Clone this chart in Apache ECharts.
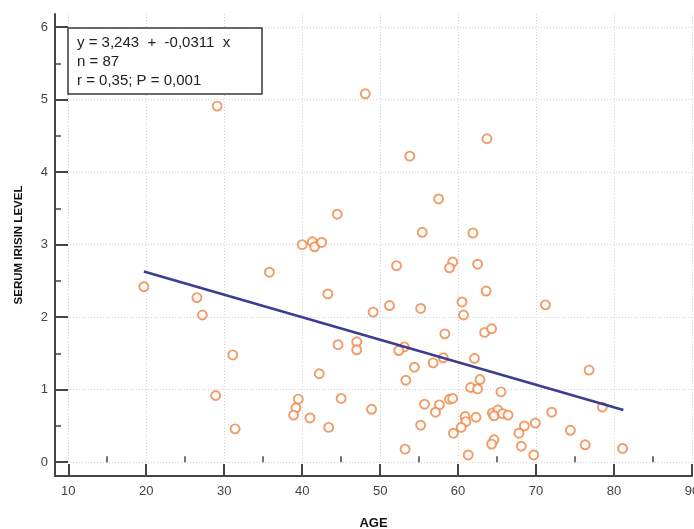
<!DOCTYPE html>
<html>
<head>
<meta charset="utf-8">
<script src="https://cdn.jsdelivr.net/npm/echarts@6/dist/echarts.min.js"></script>
<style>
  html, body { margin: 0; padding: 0; background: #fff; }
  #chart { width: 694px; height: 529px; }
</style>
</head>
<body>
<div id="chart"></div>
<script>
// age / serum irisin pairs
const ages = [
  44.5, 40.0, 41.3, 41.6, 42.5, 35.8, 19.7, 26.5, 43.3, 27.2,
  49.1, 31.1, 44.6, 47.0, 47.0, 42.2, 28.9, 39.5, 39.2, 38.9,
  45.0, 41.0, 48.9, 31.4, 43.4, 29.1, 48.1, 63.7, 53.8, 57.5,
  55.4, 61.9, 52.1, 59.3, 58.9, 62.5, 63.6, 51.2, 55.2, 60.5,
  60.7, 71.2, 58.3, 63.4, 64.3, 53.1, 52.4, 58.1, 56.8, 62.1,
  54.4, 53.3, 62.8, 61.6, 62.5, 76.8, 65.5, 78.5, 55.7, 57.6,
  58.9, 59.3, 57.1, 64.4, 65.1, 64.6, 65.7, 66.4, 60.9, 62.3,
  61.0, 60.4, 72.0, 55.2, 59.4, 68.5, 69.9, 67.8, 74.4, 64.6,
  64.3, 68.1, 76.3, 53.2, 61.3, 69.7, 81.1
];
const irisin = [
  3.42, 3.00, 3.04, 2.97, 3.03, 2.62, 2.42, 2.27, 2.32, 2.03,
  2.07, 1.48, 1.62, 1.66, 1.55, 1.22, 0.92, 0.87, 0.75, 0.65,
  0.88, 0.61, 0.73, 0.46, 0.48, 4.91, 5.08, 4.46, 4.22, 3.63,
  3.17, 3.16, 2.71, 2.76, 2.68, 2.73, 2.36, 2.16, 2.12, 2.21,
  2.03, 2.17, 1.77, 1.79, 1.84, 1.59, 1.54, 1.44, 1.37, 1.43,
  1.31, 1.13, 1.14, 1.03, 1.01, 1.27, 0.97, 0.76, 0.80, 0.79,
  0.87, 0.88, 0.69, 0.68, 0.72, 0.64, 0.67, 0.65, 0.63, 0.62,
  0.56, 0.48, 0.69, 0.51, 0.40, 0.50, 0.54, 0.40, 0.44, 0.31,
  0.25, 0.22, 0.24, 0.18, 0.10, 0.10, 0.19
];
// fitted line ends (y = 3,243 + -0,0311 x)
const fitLine = [[19.7, 2.63], [81.2, 0.72]];

const xTicks = [10, 20, 30, 40, 50, 60, 70, 80, 90];
const xMinorTicks = [15, 25, 35, 45, 55, 65, 75, 85];
const yTicks = [0, 1, 2, 3, 4, 5, 6];
const yMinorTicks = [0.5, 1.5, 2.5, 3.5, 4.5, 5.5];

const statsText = ['y = 3,243  +  -0,0311  x', 'n = 87', 'r = 0,35; P = 0,001'];

const chart = echarts.init(document.getElementById('chart'), null, { renderer: 'canvas' });

const axisColor = '#454545';
const gridLine = { show: true, lineStyle: { color: '#cfcfcf', type: [1, 2], width: 1 } };

const option = {
  animation: false,
  backgroundColor: '#fff',
  textStyle: { fontFamily: '"Liberation Sans", Arial, sans-serif' },
  title: {
    text: statsText.join('\n'),
    left: 68,
    top: 28,
    padding: [5, 32, 4, 9],
    borderColor: '#3a3a3a',
    borderWidth: 1.5,
    backgroundColor: '#fff',
    textStyle: {
      fontFamily: '"Liberation Sans", Arial, sans-serif',
      fontSize: 15,
      fontWeight: 'normal',
      color: '#222',
      lineHeight: 19
    },
    z: 10
  },
  grid: { left: 55, right: 2, top: 14, bottom: 53, containLabel: false, outerBoundsMode: 'none' },
  xAxis: [
    {
      type: 'value',
      min: 8.3,
      max: 90,
      name: 'AGE',
      nameLocation: 'middle',
      nameGap: 41,
      nameTextStyle: { fontSize: 13, fontWeight: 'bold', color: '#111' },
      axisLine: { show: true, onZero: false, lineStyle: { color: axisColor, width: 2 } },
      axisTick: { show: true, inside: true, length: 12, customValues: xTicks, lineStyle: { color: axisColor, width: 2 } },
      axisLabel: { customValues: xTicks, color: '#444', fontSize: 13, margin: 9 },
      splitLine: gridLine
    },
    {
      type: 'value',
      position: 'bottom',
      min: 8.3,
      max: 90,
      axisLine: { show: false },
      axisTick: { show: true, inside: true, length: 6, customValues: xMinorTicks, lineStyle: { color: axisColor, width: 1.5 } },
      axisLabel: { show: false },
      splitLine: { show: false }
    }
  ],
  yAxis: [
    {
      type: 'value',
      min: -0.19,
      max: 6.18,
      name: 'SERUM IRISIN LEVEL',
      nameLocation: 'middle',
      nameGap: 30,
      nameTextStyle: { fontSize: 11.5, fontWeight: 'bold', color: '#111' },
      axisLine: { show: true, onZero: false, lineStyle: { color: axisColor, width: 2 } },
      axisTick: { show: true, inside: true, length: 13, customValues: yTicks, lineStyle: { color: axisColor, width: 2 } },
      axisLabel: { customValues: yTicks, color: '#444', fontSize: 13, margin: 7 },
      splitLine: gridLine
    },
    {
      type: 'value',
      position: 'left',
      min: -0.19,
      max: 6.18,
      axisLine: { show: false },
      axisTick: { show: true, inside: true, length: 6, customValues: yMinorTicks, lineStyle: { color: axisColor, width: 1.5 } },
      axisLabel: { show: false },
      splitLine: { show: false }
    }
  ],
  series: [
    {
      type: 'scatter',
      data: ages.map((a, i) => [a, irisin[i]]),
      symbol: 'circle',
      symbolSize: 9,
      itemStyle: { color: '#fff', borderColor: '#ee8443', borderWidth: 1.9 },
      z: 3
    },
    {
      type: 'line',
      data: fitLine,
      symbol: 'none',
      lineStyle: { color: '#3c3d8f', width: 2.5 },
      z: 4
    }
  ]
};

chart.setOption(option);
</script>
</body>
</html>
